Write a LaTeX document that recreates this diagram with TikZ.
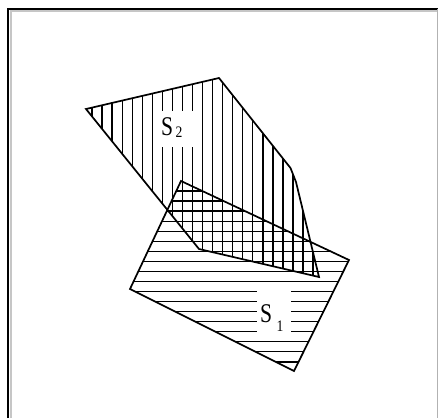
\documentclass[tikz,border=0pt]{standalone}
\usepackage{fontspec}
\setmainfont{Liberation Serif}
\tikzset{
  outline/.style={line width=1.7pt, line join=miter, black},
  hatch/.style={line width=1.3pt, black},
  labelbox/.style={fill=white, draw=none, inner sep=0pt},
  bigletter/.style={inner sep=0pt, font=\fontsize{27}{27}\selectfont},
  subletter/.style={inner sep=0pt, font=\fontsize{16}{16}\selectfont}
}
\begin{document}
\begin{tikzpicture}[x=1pt, y=-1pt]
\useasboundingbox (0,0) rectangle (438,418);
\fill[white] (0,0) rectangle (438,418);
% frame
\draw[gray!45, line width=2pt] (10.5,418) -- (10.5,11) -- (438,11);
\draw[black, line width=1.8pt] (8,418) -- (8,9) -- (438,9);
\draw[gray!60, line width=1pt] (437.5,9) -- (437.5,418);
% vertices
\coordinate (A) at (181,181);
\coordinate (B) at (349,260);
\coordinate (C) at (294,371);
\coordinate (D) at (130,289);
\coordinate (P1) at (86,109);
\coordinate (P2) at (219,78);
\coordinate (P3) at (290.5,168);
\coordinate (P4) at (296,182);
\coordinate (P5) at (319,277);
\coordinate (P6) at (199,249);
% hatching S1 (horizontal)
\begin{scope}
  \clip (A) -- (B) -- (C) -- (D) -- cycle;
  \foreach \k in {-1,...,19} {
    \draw[hatch] (120,191+10.05*\k) -- (360,191+10.05*\k);
  }
\end{scope}
% hatching S2 (vertical)
\begin{scope}
  \clip (P1) -- (P2) -- (P3) -- (P4) -- (P5) -- (P6) -- cycle;
  \foreach \k in {0,...,23} {
    \draw[hatch] (92+10.05*\k,70) -- (92+10.05*\k,290);
  }
\end{scope}
% outlines
\draw[outline] (A) -- (B) -- (C) -- (D) -- cycle;
\draw[outline] (P1) -- (P2) -- (P3) -- (P4) -- (P5) -- (P6) -- cycle;
% labels
\node[labelbox, minimum width=38pt, minimum height=36pt] (box2) at (176,128.5) {};
\node[bigletter, anchor=base west] (s2) at (161,135.5) {\scalebox{0.8}[1]{S}};
\node[subletter, anchor=base west] (s2sub) at (175.5,137.5) {\scalebox{0.85}[1]{2}};
\node[labelbox, minimum width=34pt, minimum height=46pt] (box1) at (273.5,313.5) {};
\node[bigletter, anchor=base west] (s1) at (260,322) {\scalebox{0.8}[1]{S}};
\node[subletter, anchor=base] (s1sub) at (280,331) {\scalebox{0.85}[1]{1}};
\end{tikzpicture}
\end{document}
